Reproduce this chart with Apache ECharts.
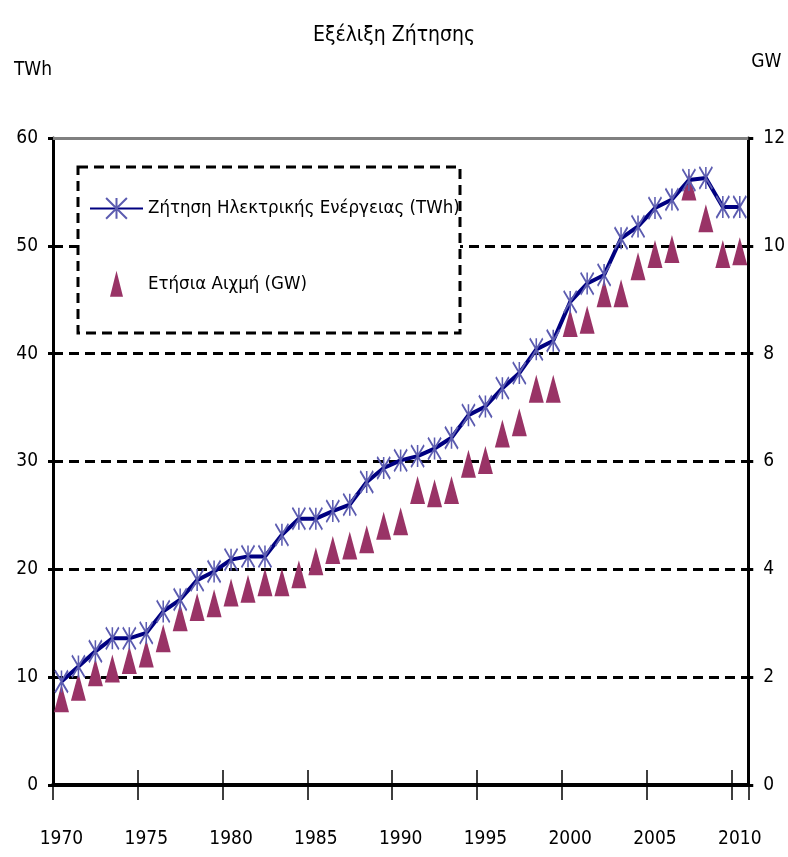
<!DOCTYPE html>
<html>
<head>
<meta charset="utf-8">
<script src="https://cdn.jsdelivr.net/npm/echarts@6/dist/echarts.min.js"></script>
<style>
html,body{margin:0;padding:0;background:#fff;}
#chart{width:788px;height:857px;}
</style>
</head>
<body>
<div id="chart"></div>
<script>
const years = ['1970','1971','1972','1973','1974','1975','1976','1977','1978','1979',
  '1980','1981','1982','1983','1984','1985','1986','1987','1988','1989',
  '1990','1991','1992','1993','1994','1995','1996','1997','1998','1999',
  '2000','2001','2002','2003','2004','2005','2006','2007','2008','2009','2010'];
const demandTWh = [9.6,11.0,12.4,13.6,13.6,14.1,16.1,17.2,19.0,19.8,
  20.9,21.2,21.2,23.2,24.7,24.7,25.4,26.0,28.1,29.4,
  30.1,30.5,31.2,32.2,34.3,35.1,36.8,38.2,40.4,41.2,
  44.8,46.5,47.3,50.7,51.8,53.5,54.3,56.1,56.3,53.6,53.6];
const peakGW = [1.61,1.82,2.09,2.16,2.32,2.44,2.72,3.11,3.30,3.37,
  3.57,3.64,3.76,3.76,3.91,4.15,4.36,4.44,4.56,4.81,
  4.89,5.47,5.41,5.47,5.96,6.03,6.52,6.73,7.35,7.35,
  8.57,8.63,9.12,9.12,9.62,9.85,9.94,11.10,10.51,9.85,9.90];
const leftTicks = [0,10,20,30,40,50,60];
const rightTicks = [0,2,4,6,8,10,12];
const titleText = 'Εξέλιξη Ζήτησης';
const seriesNames = ['Ζήτηση Ηλεκτρικής Ενέργειας (TWh)', 'Ετήσια Αιχμή (GW)'];

const FONT = "'Liberation Sans Narrow', 'DejaVu Sans Condensed', 'Arial Narrow', sans-serif";
const chart = echarts.init(document.getElementById('chart'), null, {renderer:'canvas'});

const splitColors = leftTicks.map((v,i)=> (i===0 || i===leftTicks.length-1) ? 'rgba(0,0,0,0)' : '#000');

chart.setOption({
  backgroundColor:'#fff',
  animation:false,
  title:{
    text:titleText, left:'center', top:20,
    textStyle:{fontFamily:FONT, fontSize:21, fontWeight:'normal', color:'#000'}
  },
  grid:{left:53, right:35, top:138, bottom:72, containLabel:false},
  legend:{
    orient:'vertical', left:84, top:192, itemWidth:53, itemHeight:26, itemGap:51,
    z:10,
    textStyle:{fontFamily:FONT, fontSize:18.5, color:'#000'},
    data:[
      {name:seriesNames[0]},
      {name:seriesNames[1], icon:'path://M7,0L14,28L0,28Z'}
    ]
  },
  graphic:[{
    type:'rect', z:3,
    shape:{x:78, y:167, width:382, height:166},
    style:{fill:'#fff', stroke:'#000', lineWidth:3, lineDash:[10,6]}
  }],
  xAxis:[
    {
      type:'category', data:years, position:'bottom', boundaryGap:true,
      axisLine:{show:true, onZero:false, lineStyle:{color:'#000', width:4}},
      axisTick:{show:true, interval:4, alignWithLabel:false, length:15, lineStyle:{color:'#000', width:1.5}},
      axisLabel:{interval:4, margin:45, fontFamily:FONT, fontSize:19, color:'#000'},
      splitLine:{show:false}
    },
    {
      type:'category', data:years, position:'bottom', boundaryGap:true,
      axisLine:{show:false, onZero:false},
      axisTick:{show:true, inside:true, interval:4, alignWithLabel:false, length:15, lineStyle:{color:'#000', width:1.5}},
      axisLabel:{show:false},
      splitLine:{show:false}
    },
    {
      type:'category', data:years, position:'top', boundaryGap:true,
      axisLine:{show:true, onZero:false, lineStyle:{color:'#808080', width:3}},
      axisTick:{show:false},
      axisLabel:{show:false},
      splitLine:{show:false}
    }
  ],
  yAxis:[
    {
      type:'value', min:0, max:60, interval:10, position:'left',
      name:'TWh', nameLocation:'end', nameGap:58,
      nameTextStyle:{fontFamily:FONT, fontSize:19, color:'#000', padding:[0,40,0,0]},
      axisLine:{show:true, lineStyle:{color:'#000', width:3}},
      axisTick:{show:true, length:5, lineStyle:{color:'#000', width:3}},
      axisLabel:{margin:15, fontFamily:FONT, fontSize:19, color:'#000'},
      splitLine:{show:true, lineStyle:{color:splitColors, width:3, type:[10,6]}}
    },
    {
      type:'value', min:0, max:12, interval:2, position:'right',
      name:'GW', nameLocation:'end', nameGap:66,
      nameTextStyle:{fontFamily:FONT, fontSize:19, color:'#000', padding:[0,0,0,36]},
      axisLine:{show:true, lineStyle:{color:'#000', width:3}},
      axisTick:{show:true, length:5, lineStyle:{color:'#000', width:3}},
      axisLabel:{margin:15, fontFamily:FONT, fontSize:19, color:'#000'},
      splitLine:{show:false}
    }
  ],
  series:[
    {
      name:seriesNames[0], type:'line', xAxisIndex:0, yAxisIndex:0, data:demandTWh,
      symbol:'path://M0,0L10,10M10,0L0,10M5,0L5,10', symbolSize:[13,22], symbolKeepAspect:false,
      showAllSymbol:true,
      lineStyle:{color:'#000080', width:4},
      itemStyle:{color:'rgba(0,0,0,0)', borderColor:'#5c5cb0', borderWidth:2},
      z:3
    },
    {
      name:seriesNames[1], type:'scatter', xAxisIndex:0, yAxisIndex:1, data:peakGW,
      symbol:'triangle', symbolSize:[15,28],
      itemStyle:{color:'#993366', opacity:1},
      z:2
    }
  ]
});
</script>
</body>
</html>
